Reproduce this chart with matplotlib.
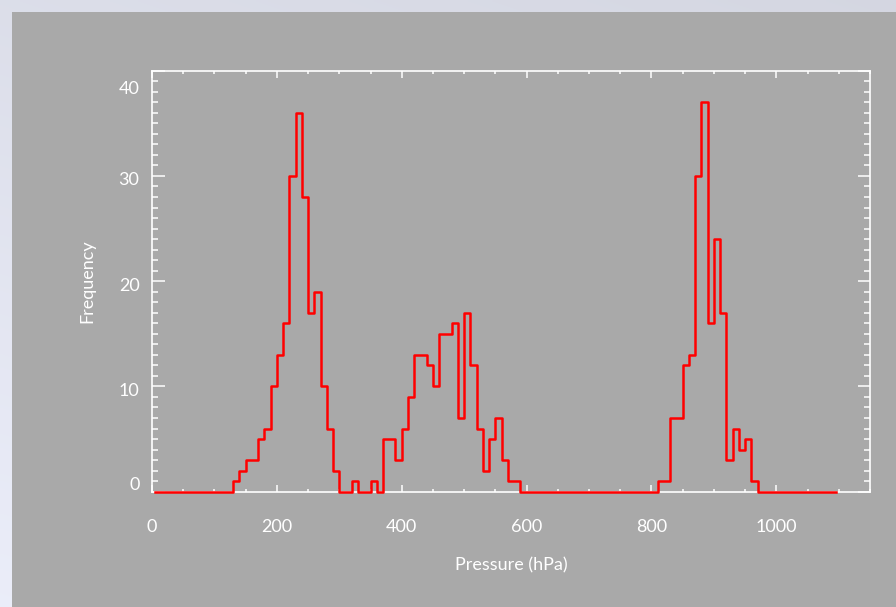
import numpy as np
import matplotlib
matplotlib.use("Agg")
import matplotlib.pyplot as plt
import matplotlib.transforms as mtransforms
from matplotlib.patches import Rectangle

# Histogram of cloud-top pressure, 10 hPa bins from 0 to 1100 hPa
bin_width = 10
bin_starts = list(range(0, 1100, bin_width))

# Non-empty bins: lower edge (hPa) -> count
nonzero_bins = {
    130: 1, 140: 2, 150: 3, 160: 3, 170: 5, 180: 6, 190: 10,
    200: 13, 210: 16, 220: 30, 230: 36, 240: 28, 250: 17, 260: 19,
    270: 10, 280: 6, 290: 2,
    320: 1, 350: 1,
    370: 5, 380: 5, 390: 3, 400: 6, 410: 9, 420: 13, 430: 13,
    440: 12, 450: 10, 460: 15, 470: 15, 480: 16, 490: 7, 500: 17,
    510: 12, 520: 6, 530: 2, 540: 5, 550: 7, 560: 3, 570: 1, 580: 1,
    810: 1, 820: 1, 830: 7, 840: 7, 850: 12, 860: 13, 870: 30,
    880: 37, 890: 16, 900: 24, 910: 17, 920: 3, 930: 6, 940: 4,
    950: 5, 960: 1,
}
counts = [nonzero_bins.get(b, 0) for b in bin_starts]
centers = [b + bin_width / 2 for b in bin_starts]

x_ticks = [0, 200, 400, 600, 800, 1000]
y_ticks = [0, 10, 20, 30, 40]

W, H, DPI = 896, 607, 100
panel_gray = "#a9a9a9"
fg = "white"

fig = plt.figure(figsize=(W / DPI, H / DPI), dpi=DPI)
fig.patch.set_facecolor("#e3e6ee")

# pale sky-like backdrop behind the grey panel
bg = fig.add_axes([0, 0, 1, 1], zorder=-10)
gy, gx = np.mgrid[0:1:200j, 0:1:300j]
shade = 0.88 + 0.06 * gy - 0.03 * gx
rgb = np.dstack([shade * 0.98, shade * 0.99, shade * 1.04]).clip(0, 1)
bg.imshow(rgb, aspect="auto", extent=[0, 1, 0, 1], interpolation="bilinear")
bg.set_axis_off()

# grey plotting panel
fig.patches.append(Rectangle((12 / W, 0), 1 - 12 / W, 1 - 12 / H,
                             transform=fig.transFigure, facecolor=panel_gray,
                             edgecolor="none", zorder=-5))

left, right, top, bottom = 152, 870, 70.7, 491.7
ax = fig.add_axes([left / W, 1 - bottom / H, (right - left) / W, (bottom - top) / H])
ax.set_facecolor(panel_gray)
ax.patch.set_alpha(0)

ax.step(centers, counts, where="mid", color="#ff0000", linewidth=1.8, zorder=3,
        clip_on=False)

ax.set_xlim(0, 1150)
ax.set_ylim(0, 40)

font = dict(family=["Lato", "DejaVu Sans"], weight="normal")

ax.set_xticks(x_ticks)
ax.set_xticks(np.arange(0, 1151, 50), minor=True)
ax.set_yticks(y_ticks)
ax.set_yticks(np.arange(0, 41, 1), minor=True)

ax.set_xticklabels([str(v) for v in x_ticks], color=fg, fontsize=13, **font)
ax.set_yticklabels([str(v) for v in y_ticks], color=fg, fontsize=13, **font)

ax.tick_params(axis="x", which="major", direction="in", length=5, width=1.1,
               color=fg, pad=20, top=True, bottom=True)
ax.tick_params(axis="x", which="minor", direction="in", length=2.2, width=1.1,
               color=fg, top=True, bottom=True)
ax.tick_params(axis="y", which="major", direction="in", length=9, width=1.1,
               color=fg, pad=9, left=True, right=True)
ax.tick_params(axis="y", which="minor", direction="in", length=4.5, width=1.1,
               color=fg, left=True, right=True)

# end labels on the y axis sit inside the frame
offsets_px = {0: 8, 10: -3, 20: -3, 30: -3, 40: -17}
for val, lab in zip(y_ticks, ax.get_yticklabels()):
    dy = offsets_px[val] / DPI
    lab.set_transform(lab.get_transform() +
                      mtransforms.ScaledTranslation(0, dy, fig.dpi_scale_trans))

for sp in ax.spines.values():
    sp.set_color(fg)
    sp.set_linewidth(1.2)

ax.set_xlabel("Pressure (hPa)", color=fg, fontsize=13, labelpad=16, **font)
ax.set_ylabel("Frequency", color=fg, fontsize=13, labelpad=17, **font)

fig.savefig("out.png", dpi=DPI, facecolor=fig.get_facecolor())
